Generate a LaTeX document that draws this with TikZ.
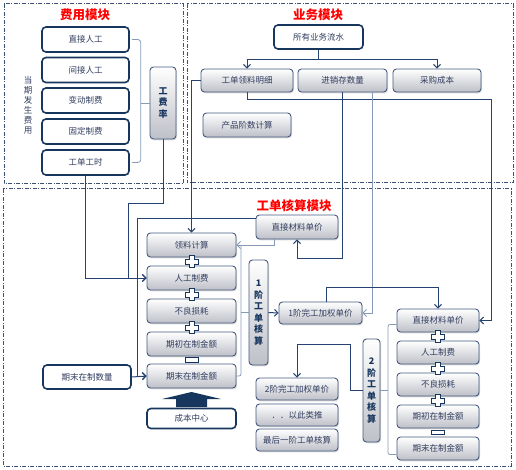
\documentclass[tikz,border=0pt]{standalone}
\usepackage{fontspec}
\newfontfamily\cjk{Noto Sans CJK SC}
\usetikzlibrary{arrows.meta,shadows,calc}
\definecolor{navy}{RGB}{23,54,93}
\definecolor{lncol}{RGB}{38,66,112}
\definecolor{ltcol}{RGB}{135,155,185}
\definecolor{txtcol}{RGB}{50,62,95}
\definecolor{gbcol}{RGB}{70,90,128}
\definecolor{framecol}{RGB}{60,80,120}
\definecolor{titlered}{RGB}{255,0,0}
\definecolor{gbot}{RGB}{190,192,200}
\tikzset{
  wbox/.style={draw=navy, fill=white, line width=1.6pt, rounded corners=4pt,
    font=\cjk\fontsize{8.5}{10}\selectfont, text=txtcol, inner sep=0pt},
  gbox/.style={draw=gbcol, top color=white, bottom color=gbot, line width=0.9pt,
    rounded corners=3.5pt, font=\cjk\fontsize{8.5}{10}\selectfont, text=txtcol, inner sep=0pt,
    drop shadow={shadow xshift=1pt, shadow yshift=-1.3pt, opacity=0.3}},
  vbox/.style={gbox, font=\cjk\bfseries\fontsize{9}{11.5}\selectfont, text=navy, align=center},
  ln/.style={draw=lncol, line width=1pt},
  lt/.style={draw=ltcol, line width=0.8pt},
  frame/.style={draw=framecol, line width=1pt, dash pattern=on 4pt off 1.5pt on 1pt off 1.5pt},
  title/.style={font=\cjk\bfseries\fontsize{12.5}{14}\selectfont, text=titlered},
  pluspic/.pic={\draw[navy, fill=white, line width=1pt]
    (-6.5,-2.5) -- (-2.5,-2.5) -- (-2.5,-6) -- (2.5,-6) -- (2.5,-2.5) -- (6.5,-2.5) -- (6.5,2.5) -- (2.5,2.5)
    -- (2.5,6) -- (-2.5,6) -- (-2.5,2.5) -- (-6.5,2.5) -- cycle;},
  minuspic/.pic={\draw[navy, fill=white, line width=1pt] (-6.5,-2.2) rectangle (6.5,2.2);},
  >={Straight Barb[length=3.5pt,width=7pt]}
}
\begin{document}
\begin{tikzpicture}[x=1pt,y=-1pt]
\useasboundingbox (0,0) rectangle (516,470);
% frames
\draw[frame] (4,4) rectangle (183,184);
\draw[frame] (187,4) rectangle (513,183);
\draw[frame] (3,189) rectangle (511,466);
% titles
\node[title] (t1) at (85,15) {费用模块};
\node[title] (t2) at (318,15) {业务模块};
\node[title] (t3) at (294,206) {工单核算模块};
% cost module
\node[wbox, minimum width=87pt, minimum height=25pt] (zr) at (85.5,39.5) {直接人工};
\node[wbox, minimum width=87pt, minimum height=25pt] (jr) at (85.5,70) {间接人工};
\node[wbox, minimum width=87pt, minimum height=25pt] (bd) at (85.5,100.5) {变动制费};
\node[wbox, minimum width=87pt, minimum height=25pt] (gz) at (85.5,131.5) {固定制费};
\node[wbox, minimum width=87pt, minimum height=25pt] (gs) at (85.5,162.5) {工单工时};
\node[vbox, minimum width=26pt, minimum height=72pt] (gfl) at (163,103) {工\\费\\率};
\node[font=\cjk\fontsize{8.5}{10}\selectfont, text=txtcol, align=center, inner sep=0pt] (dq) at (28,105) {当\\期\\发\\生\\费\\用};
% business module
\node[wbox, minimum width=89pt, minimum height=24pt] (sy) at (318.5,37) {所有业务流水};
\node[gbox, minimum width=92pt, minimum height=23pt] (gd) at (247,80.5) {工单领料明细};
\node[gbox, minimum width=89pt, minimum height=23pt] (jx) at (342.5,80.5) {进销存数量};
\node[gbox, minimum width=88pt, minimum height=23pt] (cg) at (437,80.5) {采购成本};
\node[gbox, minimum width=88pt, minimum height=24pt] (cp) at (247,125) {产品阶数计算};
% order module, column 1
\node[gbox, minimum width=89pt, minimum height=24pt] (lj) at (191.5,245) {领料计算};
\node[gbox, minimum width=89pt, minimum height=24pt] (rg) at (191.5,278) {人工制费};
\node[gbox, minimum width=89pt, minimum height=24pt] (bl) at (191.5,311) {不良损耗};
\node[gbox, minimum width=89pt, minimum height=24pt] (qc) at (191.5,344) {期初在制金额};
\node[gbox, minimum width=89pt, minimum height=24pt] (qm) at (191.5,376) {期末在制金额};
\node[wbox, minimum width=88pt, minimum height=24pt] (qs) at (87,377) {期末在制数量};
\node[wbox, minimum width=89pt, minimum height=20pt] (cb) at (191.5,418.5) {成本中心};
\pic at (191.5,261.5) {pluspic};
\pic at (191.5,294.5) {pluspic};
\pic at (191.5,327.5) {pluspic};
\pic at (191.5,360) {minuspic};
% big arrow
\fill[navy] (176,407) -- (176,399) -- (162,399) -- (191.5,392) -- (221,399) -- (207,399) -- (207,407) -- cycle;
% stage 1
\node[gbox, minimum width=82pt, minimum height=24pt] (zc1) at (297,227) {直接材料单价};
\node[vbox, minimum width=19pt, minimum height=105pt] (j1) at (258.5,312.5) {1\\阶\\工\\单\\核\\算};
\node[gbox, minimum width=83pt, minimum height=22pt] (w1) at (320.5,313) {1阶完工加权单价};
% stage 2 column
\node[gbox, minimum width=82pt, minimum height=23pt] (zc2) at (438,320.5) {直接材料单价};
\node[gbox, minimum width=82pt, minimum height=23pt] (rg2) at (438,352.5) {人工制费};
\node[gbox, minimum width=82pt, minimum height=23pt] (bl2) at (438,384.5) {不良损耗};
\node[gbox, minimum width=82pt, minimum height=23pt] (qc2) at (438,416.5) {期初在制金额};
\node[gbox, minimum width=82pt, minimum height=23pt] (qm2) at (438,448.5) {期末在制金额};
\pic at (438,336.5) {pluspic};
\pic at (438,368.5) {pluspic};
\pic at (438,400.5) {pluspic};
\pic at (438,432.5) {minuspic};
\node[vbox, minimum width=17pt, minimum height=103pt] (j2) at (371.5,390.5) {2\\阶\\工\\单\\核\\算};
\node[gbox, minimum width=82pt, minimum height=22pt] (w2) at (297,389) {2阶完工加权单价};
\node[gbox, minimum width=82pt, minimum height=22pt] (ly) at (297,415) {．．以此类推};
\node[gbox, minimum width=82pt, minimum height=22pt] (zh) at (297,440) {最后一阶工单核算};
% connectors: business
\draw[ln,->] (sy.south) -- ++(0,10) -| (gd.north);
\draw[ln,->] (sy.south) -- ++(0,10) -| (cg.north);
\draw[ln,->] (gd.west) -| (lj.north);
\draw[ln,->] (gd.south) -- ++(0,7) -| (491,320.5) -- (zc2.east);
\draw[ln,->] (jx.south) -- ++(0,166) -| (zc1.south);
\draw[lt,->] ([xshift=30pt]jx.south) |- (w1.east);
\draw[lt,->] ([xshift=-23pt]zc1.south) |- (lj.east);
\draw[ln,->] ([yshift=8pt]zc1.west) -| (137,376) -- (qm.west);
\draw[ln,->] (qs.east) -- (qm.west);
% cost module connectors
\draw[ln,->] (gs.south) |- (rg.west);
\draw[ln,->] (gfl.south) -- ++(0,64) -| (128,278) -- (rg.west);
\draw[lt, rounded corners=3pt] ([xshift=2pt]zr.east) -- ++(9,0) |- ([xshift=2pt]gs.east);
\draw[lt] (gfl.west) -- ++(-9,0);
% stage 1 bracket
\draw[lt, rounded corners=2pt] (241,245) -- (241,376) -- (qm.east);
\draw[lt] (241,312.5) -- (j1.west);
\draw[ln,->] (j1.east) -- (w1.west);
\draw[ln,->] ([xshift=6pt]w1.north) -- ++(0,-14) -| (zc2.north);
% stage 2
\draw[lt, rounded corners=2pt] ([yshift=-4pt]zc2.west) -| (388,390.5) |- ([yshift=-6pt]qm2.west);
\draw[lt] (388,390.5) -- (j2.east);
\draw[ln,->] (j2.west) -| (350,344) -| (w2.north);
\end{tikzpicture}
\end{document}
